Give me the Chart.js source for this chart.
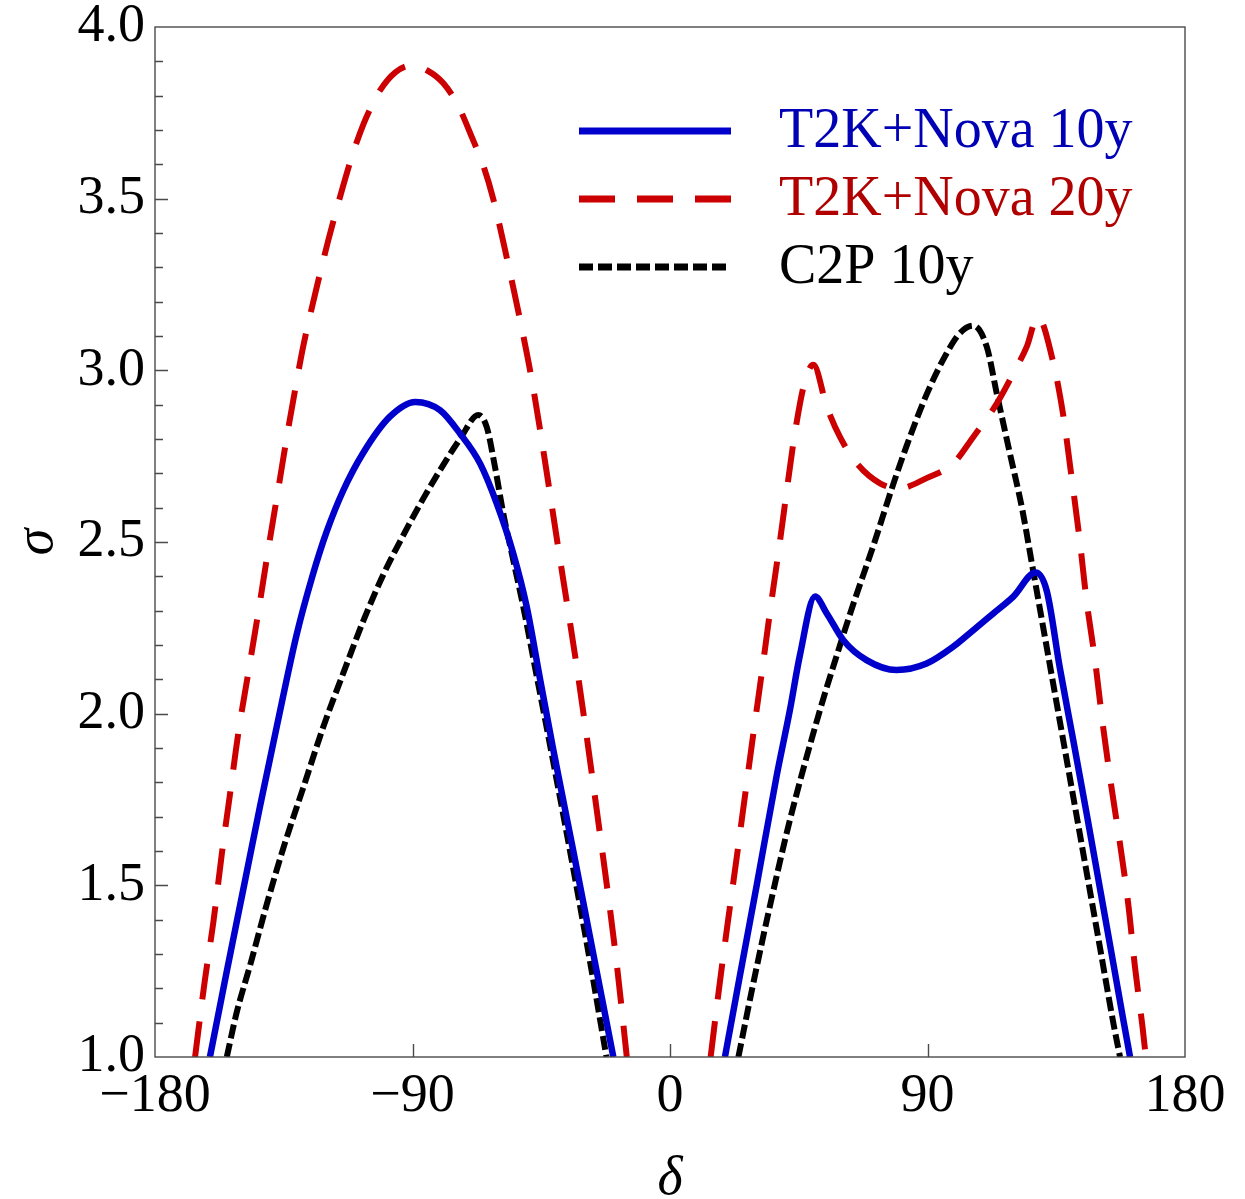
<!DOCTYPE html>
<html>
<head>
<meta charset="utf-8">
<title>sigma vs delta</title>
<script src="https://cdn.jsdelivr.net/npm/chart.js@4.4.1/dist/chart.umd.min.js"></script>
<style>
  html, body { margin: 0; padding: 0; background: #fff; }
  #wrap { width: 1245px; height: 1199px; position: relative; }
</style>
</head>
<body>
<div id="wrap"><canvas id="plot"></canvas></div>
<script>
// Kurvene lest av fra figuren; null i sigma = brudd mellom de to puklene.
const seriesNames = ["T2K+Nova 10y", "T2K+Nova 20y", "C2P 10y"];

const deltaT2K10 = [-160.8, -154.9, -149.1, -143.3, -137.5, -130.5, -125.0, -120.0, -114.2, -107.2, -97.9, -89.0, -80.4, -73.4, -66.4, -60.6, -54.8, -50.1, -45.4, -40.8, -33.8, -26.8, -19.8,
  0,
  19.2, 24.5, 30.3, 37.3, 41.9, 45.4, 50.7, 54.8, 60.6, 68.7, 79.2, 89.7, 99.0, 106.0, 113.0, 120.0, 127.8, 131.7, 136.3, 141.0, 145.6, 150.3, 155.0, 158.4, 160.8];
const sigmaT2K10 = [1.0, 1.25, 1.49, 1.73, 1.96, 2.23, 2.40, 2.53, 2.65, 2.76, 2.865, 2.908, 2.884, 2.816, 2.729, 2.613, 2.467, 2.312, 2.10, 1.895, 1.60, 1.30, 1.0,
  null,
  1.0, 1.24, 1.50, 1.82, 2.01, 2.17, 2.341, 2.292, 2.214, 2.156, 2.127, 2.146, 2.195, 2.243, 2.292, 2.341, 2.411, 2.357, 2.131, 1.92, 1.71, 1.49, 1.27, 1.11, 1.0];

const deltaT2K20 = [-166.0, -162.6, -159.6, -156.7, -153.8, -150.9, -147.4, -143.9, -140.4, -136.9, -133.4, -131.1, -128.2, -124.1, -119.4, -116.5, -112.4, -110.1, -107.0, -104.3, -101.4, -96.0, -90.5, -85.0, -79.2, -74.0, -69.3, -65.0, -61.8, -57.1, -52.4, -48.3, -45.4, -39.0, -32.6, -25.6, -18.6, -15.1,
  0,
  14.2, 17.0, 20.0, 23.3, 26.2, 29.1, 32.1, 35.0, 38.4, 41.3, 43.7, 47.2, 50.1, 54.8, 59.4, 65.3, 73.4, 80.0, 89.7, 99.0, 106.0, 114.2, 120.0, 124.7, 128.5, 134.0, 137.5, 139.8, 143.3, 145.6, 148.5, 151.4, 154.4, 157.3, 160.2, 162.5, 165.2, 166.3];
const sigmaT2K20 = [1.0, 1.222, 1.393, 1.588, 1.765, 1.942, 2.119, 2.295, 2.479, 2.655, 2.832, 2.94, 3.07, 3.22, 3.38, 3.47, 3.59, 3.65, 3.72, 3.77, 3.815, 3.868, 3.888, 3.874, 3.836, 3.77, 3.68, 3.59, 3.50, 3.33, 3.147, 2.972, 2.826, 2.48, 2.137, 1.719, 1.27, 1.0,
  null,
  1.0, 1.19, 1.38, 1.58, 1.76, 1.94, 2.12, 2.30, 2.50, 2.68, 2.82, 2.97, 3.016, 2.894, 2.806, 2.729, 2.671, 2.656, 2.686, 2.729, 2.806, 2.903, 2.991, 3.069, 3.156, 3.021, 2.866, 2.724, 2.498, 2.329, 2.159, 1.96, 1.78, 1.62, 1.443, 1.263, 1.084, 1.0];

const deltaC2P10 = [-154.9, -151.5, -146.8, -141.0, -135.2, -128.2, -121.2, -114.2, -107.2, -100.2, -93.2, -86.0, -78.1, -73.4, -67.0, -64.1, -61.2, -58.3, -55.3, -51.3, -46.6, -41.5, -34.5, -28.0, -22.2,
  0,
  23.9, 29.0, 34.4, 41.9, 52.4, 58.3, 64.1, 71.1, 78.1, 82.7, 89.7, 96.7, 101.5, 106.0, 110.7, 114.2, 118.8, 123.0, 127.0, 131.7, 136.3, 141.0, 145.6, 150.3, 155.0, 157.3];
const sigmaC2P10 = [1.0, 1.128, 1.266, 1.443, 1.607, 1.784, 1.961, 2.118, 2.27, 2.405, 2.52, 2.63, 2.74, 2.80, 2.870, 2.836, 2.720, 2.584, 2.467, 2.312, 2.11, 1.89, 1.58, 1.28, 1.0,
  null,
  1.0, 1.21, 1.42, 1.69, 2.01, 2.17, 2.32, 2.49, 2.67, 2.78, 2.93, 3.05, 3.11, 3.13, 3.069, 2.933, 2.758, 2.600, 2.413, 2.192, 1.976, 1.755, 1.539, 1.318, 1.097, 1.0];

const xTicks = [-180, -90, 0, 90, 180];
const yMin = 1, yMax = 4;

const FONT = "'Liberation Serif', 'DejaVu Serif', serif";
const pts = (xs, ys) => xs.map((x, i) => ({ x, y: ys[i] }));

const lineColors = ["#0000cc", "#cc0000", "#000000"];
const textColors = ["#0000b4", "#b00000", "#000000"];
const dashes = [[], [36, 22], [14, 5]];

// ramme, innovervendte tikk og legende tegnes selv
const decor = {
  id: "decor",
  afterDraw(chart) {
    const { ctx, chartArea: a, scales: { x, y } } = chart;
    ctx.save();
    ctx.strokeStyle = "#4a4a4a";
    ctx.lineWidth = 1.4;
    ctx.setLineDash([]);
    ctx.strokeRect(a.left, a.top, a.right - a.left, a.bottom - a.top);
    ctx.beginPath();
    for (let i = yMin * 10 + 1; i < yMax * 10; i++) {
      const py = Math.round(y.getPixelForValue(i / 10)) + 0.5;
      const len = i % 5 === 0 ? 13 : 8;
      ctx.moveTo(a.left, py); ctx.lineTo(a.left + len, py);
    }
    xTicks.slice(1, -1).forEach((v) => {
      const px = Math.round(x.getPixelForValue(v)) + 0.5;
      ctx.moveTo(px, a.bottom); ctx.lineTo(px, a.bottom - 13);
    });
    ctx.stroke();

    // legende
    const rows = [131, 199, 267];
    chart.data.datasets.forEach((ds, i) => {
      ctx.beginPath();
      ctx.strokeStyle = ds.borderColor;
      ctx.lineWidth = 7;
      ctx.lineCap = "butt";
      ctx.setLineDash(ds.borderDash || []);
      ctx.moveTo(579, rows[i]); ctx.lineTo(731, rows[i]);
      ctx.stroke();
      ctx.setLineDash([]);
      ctx.fillStyle = textColors[i];
      ctx.font = `56px ${FONT}`;
      ctx.textBaseline = "middle";
      ctx.textAlign = "left";
      ctx.fillText(ds.label, 779, rows[i] + 1);
    });
    ctx.restore();
  },
};

const datasets = [
  [deltaT2K10, sigmaT2K10],
  [deltaT2K20, sigmaT2K20],
  [deltaC2P10, sigmaC2P10],
].map(([xs, ys], i) => ({
  label: seriesNames[i],
  data: pts(xs, ys),
  borderColor: lineColors[i],
  backgroundColor: lineColors[i],
  borderWidth: i === 0 ? 6.5 : 6,
  borderDash: dashes[i],
  borderCapStyle: "butt",
  pointRadius: 0,
  cubicInterpolationMode: "monotone",
  spanGaps: false,
  fill: false,
}));

new Chart(document.getElementById("plot"), {
  type: "line",
  data: { datasets },
  options: {
    responsive: true,
    maintainAspectRatio: false,
    animation: false,
    devicePixelRatio: 1,
    layout: { padding: { top: 27, right: 60, left: 0, bottom: 0 } },
    plugins: { legend: { display: false }, tooltip: { enabled: false } },
    scales: {
      x: {
        type: "linear",
        min: -180, max: 180,
        afterFit: (s) => { s.height = 142; },
        afterBuildTicks: (s) => { s.ticks = xTicks.map((v) => ({ value: v })); },
        grid: { display: false, drawTicks: false },
        border: { display: false },
        ticks: {
          padding: 7,
          color: "#000",
          font: { family: FONT, size: 54, lineHeight: 1.2 },
          maxRotation: 0,
          callback: (v) => (v < 0 ? "\u2212" + (-v) : String(v)),
        },
        title: {
          display: true, text: "δ", color: "#000",
          font: { family: FONT, size: 54, style: "italic", lineHeight: 1 },
          padding: { top: 0, bottom: -8 },
        },
      },
      y: {
        min: yMin, max: yMax,
        afterFit: (s) => { s.width = 155; s.paddingTop = 0; s.paddingBottom = 0; },
        grid: { display: false, drawTicks: false },
        border: { display: false },
        ticks: {
          stepSize: 0.5,
          padding: 10,
          color: "#000",
          font: { family: FONT, size: 54, lineHeight: 0.5 },
          callback: (v) => v.toFixed(1),
        },
        title: {
          display: true, text: "σ", color: "#000",
          font: { family: FONT, size: 54, style: "italic", lineHeight: 1 },
          padding: { top: 11, bottom: 0 },
        },
      },
    },
  },
  plugins: [decor],
});
</script>
</body>
</html>
